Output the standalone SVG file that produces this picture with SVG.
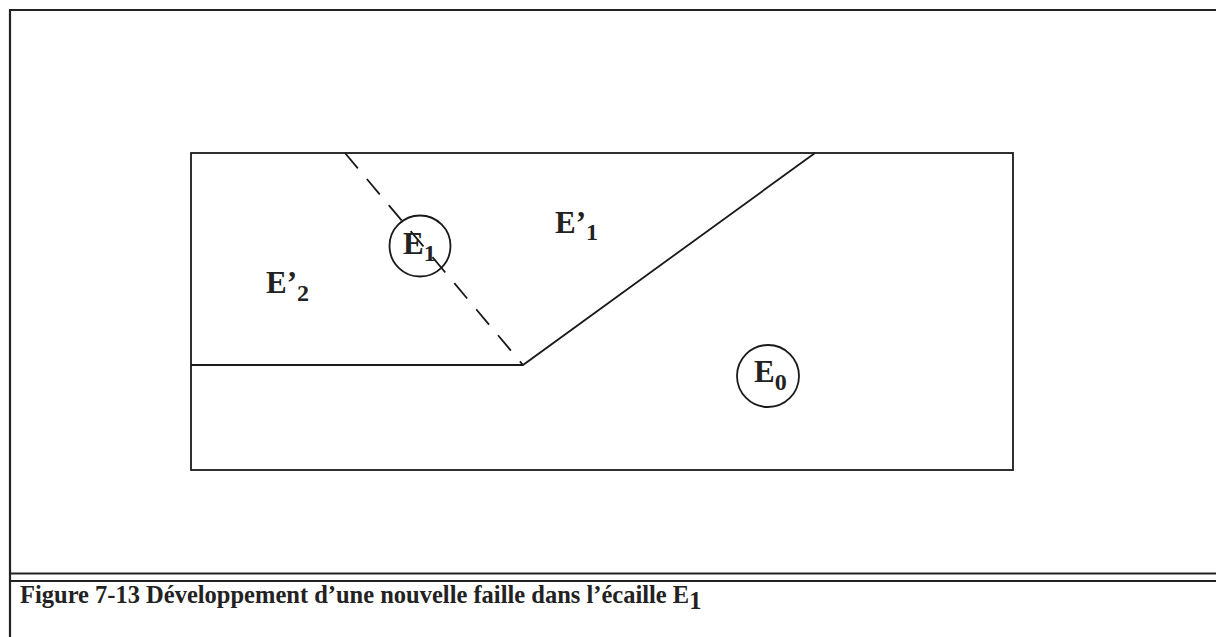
<svg xmlns="http://www.w3.org/2000/svg" width="1216" height="637" viewBox="0 0 1216 637">
<style>
.frame{fill:none;stroke:#222;stroke-width:2.2}
.ln{fill:none;stroke:#1a1a1a;stroke-width:1.8}
.dash{fill:none;stroke:#1a1a1a;stroke-width:1.8;stroke-dasharray:20 14}
.lbl{font-family:"Liberation Serif",serif;font-weight:bold;font-size:31px;fill:#222}
.sub{font-size:24px}
.cap{font-family:"Liberation Serif",serif;font-weight:bold;font-size:24.5px;fill:#222}
</style>
<rect width="1216" height="637" fill="#fff"/>
<g id="page-frame">
<line class="frame" x1="9" y1="10" x2="1216" y2="10"/>
<line class="frame" x1="10" y1="9" x2="10" y2="637"/>
<line class="frame" x1="10" y1="573.5" x2="1216" y2="573.5"/>
<line class="frame" x1="10" y1="581" x2="1216" y2="581"/>
</g>
<g id="section">
<rect class="ln" x="191" y="153" width="822" height="317"/>
</g>
<g id="connectors">
<polyline class="ln" points="191,365 523,365 815,153"/>
<line class="dash" x1="345" y1="153" x2="523" y2="365"/>
</g>
<g id="E1">
<circle cx="420" cy="246" r="30.5" fill="none" stroke="#1a1a1a" stroke-width="1.8"/>
<text class="lbl" x="403" y="254">E<tspan class="sub" dy="7">1</tspan></text>
</g>
<g id="E0">
<circle cx="768" cy="376" r="31" fill="none" stroke="#1a1a1a" stroke-width="1.8"/>
<text class="lbl" x="754" y="382">E<tspan class="sub" dy="8">0</tspan></text>
</g>
<g id="E1prime">
<text class="lbl" x="555" y="233">E’<tspan class="sub" dy="7">1</tspan></text>
</g>
<g id="E2prime">
<text class="lbl" x="266" y="293">E’<tspan class="sub" dy="8">2</tspan></text>
</g>
<text class="cap" x="20" y="603">Figure 7-13 Développement d’une nouvelle faille dans l’écaille E<tspan dy="6">1</tspan></text>
</svg>
